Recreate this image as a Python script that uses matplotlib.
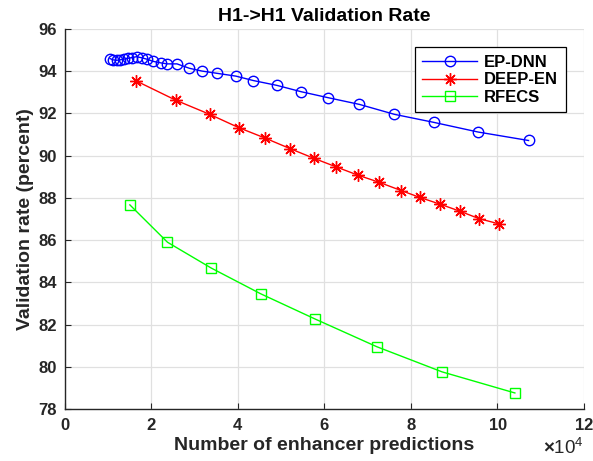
import matplotlib
matplotlib.use("Agg")
import matplotlib.pyplot as plt

plt.rcParams['font.family'] = ['Liberation Sans', 'DejaVu Sans']
plt.rcParams['font.weight'] = 'bold'
plt.rcParams['mathtext.fontset'] = 'custom'
plt.rcParams['mathtext.rm'] = 'Liberation Sans'

# ==================== data ====================
ep_x = [10430, 11120, 11930, 12740, 13550, 14470, 15510, 16550, 17700, 18970,
        20360, 22090, 23590, 25890, 28780, 31660, 35240, 39510, 43550, 49020,
        54630, 60790, 68080, 76160, 85250, 95540, 107180]
ep_y = [94.60, 94.54, 94.52, 94.54, 94.57, 94.61, 94.65, 94.69, 94.64, 94.57,
        94.47, 94.40, 94.35, 94.35, 94.14, 94.01, 93.90, 93.77, 93.56, 93.33,
        93.03, 92.75, 92.43, 91.96, 91.58, 91.12, 90.72]

deep_x = [16480, 25710, 33460, 40160, 46320, 52090, 57630, 62700, 67710, 72630,
          77710, 82090, 86780, 91320, 95710, 100330]
deep_y = [93.54, 92.62, 91.96, 91.33, 90.83, 90.33, 89.87, 89.47, 89.08, 88.74,
          88.35, 88.02, 87.70, 87.37, 87.02, 86.77]

rf_x = [15000, 23700, 33790, 45230, 57860, 72100, 87170, 104020]
rf_y = [87.67, 85.90, 84.68, 83.46, 82.26, 80.95, 79.76, 78.76]

x_ticks = [0, 20000, 40000, 60000, 80000, 100000, 120000]
y_ticks = [78, 80, 82, 84, 86, 88, 90, 92, 94, 96]

# ==================== plot ====================
fig = plt.figure(figsize=(5.93, 4.61), dpi=100)
ax = fig.add_axes([0.1096, 0.1128, 0.8752, 0.8242])

ax.plot(ep_x, ep_y, color='#0000FF', lw=1, marker='o', ms=7.5, mfc='none',
        mec='#0000FF', mew=1, label='EP-DNN')
ax.plot(deep_x, deep_y, color='#FF0000', lw=1, marker=(8, 2, 0), ms=9,
        mec='#FF0000', mew=1, label='DEEP-EN')
ax.plot(rf_x, rf_y, color='#00FF00', lw=1, marker='s', ms=7, mfc='none',
        mec='#00FF00', mew=1, label='RFECS')

ax.set_xlim(0, 120000)
ax.set_ylim(78, 96)
ax.set_xticks(x_ticks)
ax.set_yticks(y_ticks)
ax.ticklabel_format(axis='x', style='sci', scilimits=(4, 4), useMathText=True)
off = ax.xaxis.get_offset_text()
off.set_fontsize(13.5)
off.set_fontweight('normal')
off.set_color('#262626')

ax.grid(True, color='#e0e0e0', lw=0.9)
ax.set_axisbelow(True)
for s in ['top', 'right']:
    ax.spines[s].set_visible(False)
for s in ['left', 'bottom']:
    ax.spines[s].set_color('#262626')
    ax.spines[s].set_linewidth(1)
ax.tick_params(direction='in', length=4, color='#262626', labelsize=12,
               labelcolor='#262626', pad=6)

ax.set_title('H1->H1 Validation Rate', fontsize=14, fontweight='bold', pad=6)
ax.set_xlabel('Number of enhancer predictions', fontsize=14, fontweight='bold',
              color='#262626', labelpad=3)
ax.set_ylabel('Validation rate (percent)', fontsize=14, fontweight='bold',
              color='#262626', labelpad=3)

leg = ax.legend(loc='upper right', fontsize=12, numpoints=1, handlelength=3.3,
                handletextpad=0.4, borderpad=0.45, fancybox=False, framealpha=1,
                edgecolor='black', borderaxespad=1.1, labelspacing=0.15)
leg.get_frame().set_linewidth(0.9)

fig.savefig('out.png', dpi=100)
